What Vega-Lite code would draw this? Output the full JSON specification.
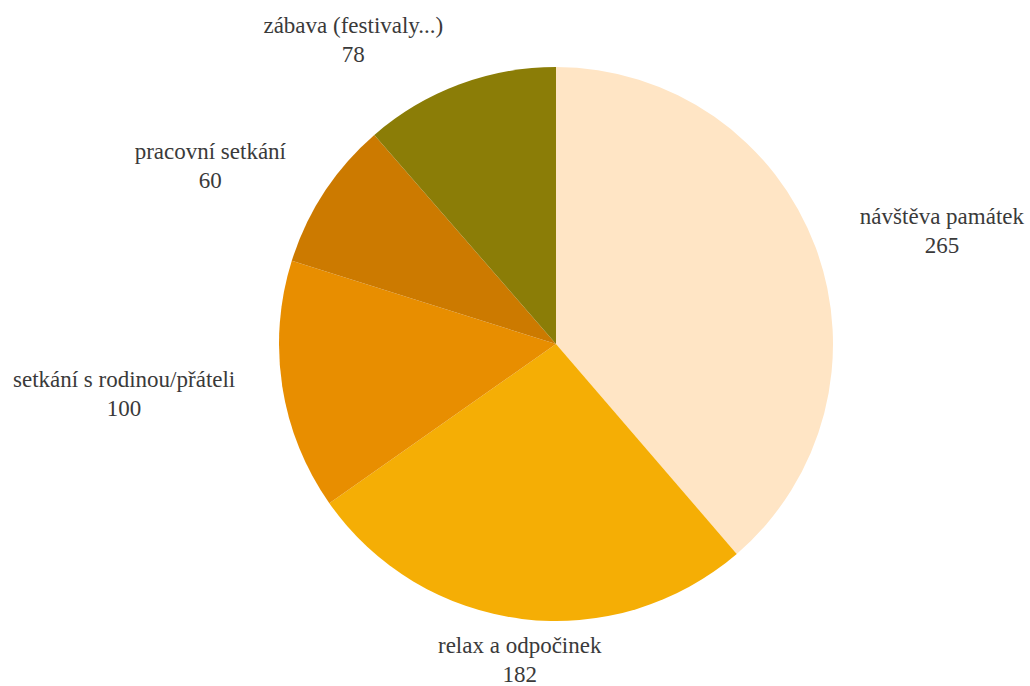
{
  "$schema": "https://vega.github.io/schema/vega-lite/v6.json",
  "width": 948,
  "height": 684,
  "autosize": {"type": "none"},
  "padding": {"left": 82, "top": 2, "right": 0, "bottom": 0},
  "background": "white",
  "config": {"view": {"stroke": null}},
  "data": {
    "values": [
      {"category": "návštěva památek", "value": 265},
      {"category": "relax a odpočinek", "value": 182},
      {"category": "setkání s rodinou/přáteli", "value": 100},
      {"category": "pracovní setkání", "value": 60},
      {"category": "zábava (festivaly...)", "value": 78}
    ]
  },
  "transform": [
    {"stack": "value", "groupby": [], "as": ["v0", "v1"]},
    {"calculate": "(datum.v0 + datum.v1) / 2", "as": "mid"},
    {"calculate": "[datum.category, '' + datum.value]", "as": "label"}
  ],
  "layer": [
    {
      "mark": {"type": "arc", "radius": 277},
      "encoding": {
        "theta": {"field": "v1", "type": "quantitative", "stack": null, "scale": {"nice": false, "zero": true}},
        "theta2": {"field": "v0"},
        "color": {
          "field": "category",
          "type": "nominal",
          "sort": null,
          "scale": {
            "domain": ["návštěva památek", "relax a odpočinek", "setkání s rodinou/přáteli", "pracovní setkání", "zábava (festivaly...)"],
            "range": ["#FFE5C5", "#F5AE05", "#E88E00", "#CC7A00", "#8B7D07"]
          },
          "legend": null
        }
      }
    },
    {
      "transform": [{"filter": "datum.category == 'návštěva památek'"}],
      "mark": {"type": "text", "radius": 401, "dx": 10, "dy": 13, "font": "Liberation Serif", "fontSize": 23, "lineHeight": 29, "color": "#3a3a3a", "align": "center", "baseline": "middle"},
      "encoding": {"theta": {"field": "mid", "type": "quantitative", "stack": null}, "text": {"field": "label"}}
    },
    {
      "transform": [{"filter": "datum.category == 'relax a odpočinek'"}],
      "mark": {"type": "text", "radius": 318, "dx": 3, "dy": -14, "font": "Liberation Serif", "fontSize": 23, "lineHeight": 29, "color": "#3a3a3a", "align": "center", "baseline": "middle"},
      "encoding": {"theta": {"field": "mid", "type": "quantitative", "stack": null}, "text": {"field": "label"}}
    },
    {
      "transform": [{"filter": "datum.category == 'setkání s rodinou/přáteli'"}],
      "mark": {"type": "text", "radius": 434, "dx": -3, "dy": -30, "font": "Liberation Serif", "fontSize": 23, "lineHeight": 29, "color": "#3a3a3a", "align": "center", "baseline": "middle"},
      "encoding": {"theta": {"field": "mid", "type": "quantitative", "stack": null}, "text": {"field": "label"}}
    },
    {
      "transform": [{"filter": "datum.category == 'pracovní setkání'"}],
      "mark": {"type": "text", "radius": 387, "dx": -22, "dy": 20, "font": "Liberation Serif", "fontSize": 23, "lineHeight": 29, "color": "#3a3a3a", "align": "center", "baseline": "middle"},
      "encoding": {"theta": {"field": "mid", "type": "quantitative", "stack": null}, "text": {"field": "label"}}
    },
    {
      "transform": [{"filter": "datum.category == 'zábava (festivaly...)'"}],
      "mark": {"type": "text", "radius": 356, "dx": -78, "dy": 15, "font": "Liberation Serif", "fontSize": 23, "lineHeight": 29, "color": "#3a3a3a", "align": "center", "baseline": "middle"},
      "encoding": {"theta": {"field": "mid", "type": "quantitative", "stack": null}, "text": {"field": "label"}}
    }
  ]
}
